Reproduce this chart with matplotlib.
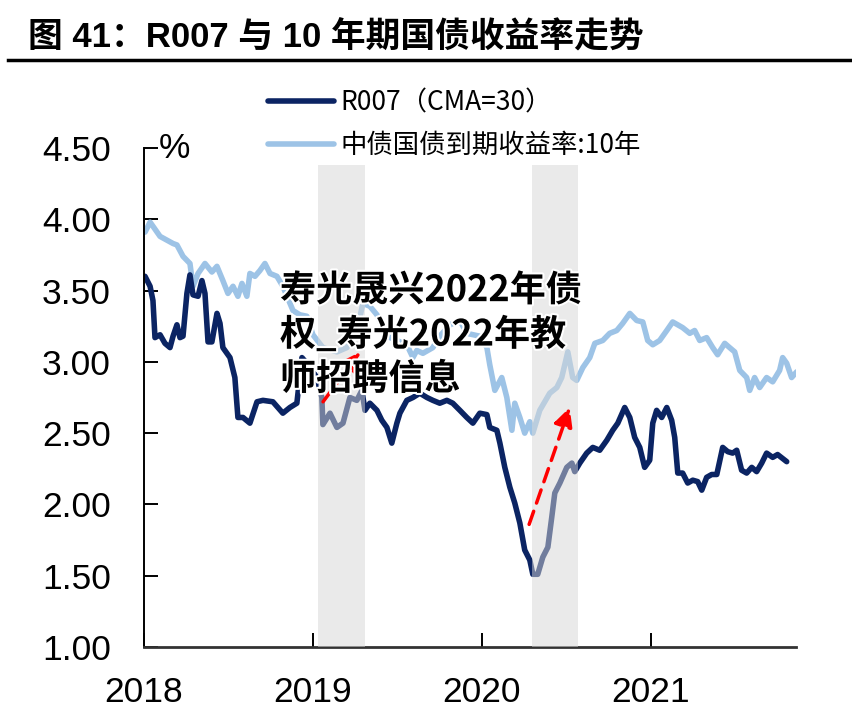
import matplotlib
matplotlib.use('Agg')
import matplotlib.pyplot as plt
import matplotlib.patheffects as pe
from matplotlib.lines import Line2D

# R007 (CMA=30): decimal year, %
r007_t = [2018.006, 2018.036, 2018.053, 2018.065, 2018.095, 2018.124, 2018.154, 2018.172,
          2018.195, 2018.213, 2018.231, 2018.254, 2018.272, 2018.290, 2018.320, 2018.343,
          2018.361, 2018.379, 2018.402, 2018.432, 2018.450, 2018.467, 2018.509, 2018.538,
          2018.556, 2018.586, 2018.627, 2018.669, 2018.704, 2018.763, 2018.822, 2018.864,
          2018.905, 2018.935, 2018.964, 2019.024, 2019.053, 2019.059, 2019.101, 2019.142,
          2019.178, 2019.219, 2019.260, 2019.290, 2019.308, 2019.337, 2019.379, 2019.408,
          2019.438, 2019.467, 2019.497, 2019.515, 2019.556, 2019.592, 2019.633, 2019.675,
          2019.710, 2019.751, 2019.793, 2019.828, 2019.870, 2019.911, 2019.947, 2019.988,
          2020.030, 2020.047, 2020.089, 2020.107, 2020.136, 2020.166, 2020.195, 2020.225,
          2020.254, 2020.284, 2020.302, 2020.331, 2020.361, 2020.391, 2020.414, 2020.432,
          2020.462, 2020.503, 2020.533, 2020.550, 2020.580, 2020.621, 2020.657, 2020.698,
          2020.740, 2020.775, 2020.805, 2020.846, 2020.876, 2020.905, 2020.935, 2020.964,
          2020.994, 2021.012, 2021.035, 2021.065, 2021.095, 2021.124, 2021.142, 2021.160,
          2021.189, 2021.219, 2021.249, 2021.278, 2021.302, 2021.331, 2021.361, 2021.391,
          2021.426, 2021.456, 2021.485, 2021.509, 2021.538, 2021.568, 2021.598, 2021.627,
          2021.657, 2021.686, 2021.722, 2021.751, 2021.805]
r007_v = [3.60, 3.53, 3.43, 3.17, 3.19, 3.13, 3.10, 3.18,
          3.26, 3.17, 3.18, 3.48, 3.61, 3.47, 3.46, 3.57,
          3.48, 3.14, 3.14, 3.34, 3.27, 3.10, 3.03, 2.89,
          2.61, 2.61, 2.57, 2.72, 2.73, 2.72, 2.64, 2.68,
          2.71, 3.03, 2.99, 2.89, 2.75, 2.56, 2.64, 2.54,
          2.57, 2.75, 2.73, 2.80, 2.66, 2.71, 2.66, 2.59,
          2.54, 2.43, 2.57, 2.64, 2.73, 2.75, 2.78, 2.75,
          2.73, 2.71, 2.73, 2.71, 2.66, 2.61, 2.57, 2.64,
          2.63, 2.54, 2.52, 2.43, 2.26, 2.12, 2.01, 1.87,
          1.68, 1.61, 1.51, 1.51, 1.63, 1.70, 1.91, 2.08,
          2.15, 2.26, 2.29, 2.23, 2.29, 2.36, 2.40, 2.38,
          2.45, 2.52, 2.57, 2.68, 2.61, 2.47, 2.40, 2.26,
          2.31, 2.57, 2.66, 2.61, 2.68, 2.59, 2.47, 2.22,
          2.22, 2.15, 2.17, 2.16, 2.10, 2.19, 2.21, 2.21,
          2.40, 2.37, 2.36, 2.38, 2.24, 2.22, 2.26, 2.23,
          2.29, 2.36, 2.33, 2.35, 2.30]

# 中债国债到期收益率:10年
cgb_t = [2018.006, 2018.036, 2018.095, 2018.172, 2018.195, 2018.231, 2018.272, 2018.290,
         2018.320, 2018.361, 2018.402, 2018.432, 2018.467, 2018.497, 2018.527, 2018.556,
         2018.580, 2018.609, 2018.627, 2018.657, 2018.686, 2018.716, 2018.746, 2018.787,
         2018.822, 2018.882, 2018.923, 2018.964, 2019.000, 2019.059, 2019.142, 2019.201,
         2019.260, 2019.296, 2019.337, 2019.379, 2019.438, 2019.497, 2019.556, 2019.592,
         2019.615, 2019.651, 2019.710, 2019.751, 2019.811, 2019.870, 2019.911, 2019.988,
         2020.030, 2020.047, 2020.077, 2020.118, 2020.148, 2020.178, 2020.195, 2020.225,
         2020.254, 2020.284, 2020.302, 2020.343, 2020.402, 2020.444, 2020.473, 2020.509,
         2020.538, 2020.562, 2020.598, 2020.639, 2020.669, 2020.716, 2020.757, 2020.799,
         2020.834, 2020.876, 2020.917, 2020.953, 2020.982, 2021.012, 2021.053, 2021.095,
         2021.130, 2021.189, 2021.231, 2021.260, 2021.290, 2021.331, 2021.367, 2021.396,
         2021.438, 2021.467, 2021.497, 2021.527, 2021.568, 2021.586, 2021.615, 2021.645,
         2021.686, 2021.722, 2021.763, 2021.781, 2021.805, 2021.834, 2021.864]
cgb_v = [3.91, 3.98, 3.88, 3.83, 3.82, 3.74, 3.69, 3.53,
         3.62, 3.69, 3.63, 3.67, 3.57, 3.48, 3.53, 3.46,
         3.55, 3.46, 3.62, 3.60, 3.64, 3.69, 3.62, 3.60,
         3.53, 3.36, 3.33, 3.32, 3.19, 3.10, 3.07, 3.10,
         3.22, 3.41, 3.39, 3.33, 3.18, 3.15, 3.12, 3.03,
         3.08, 3.06, 3.10, 3.18, 3.26, 3.29, 3.20, 3.18,
         3.10, 2.98, 2.80, 2.89, 2.75, 2.52, 2.71, 2.61,
         2.50, 2.58, 2.50, 2.66, 2.78, 2.82, 2.89, 3.07,
         2.89, 2.87, 2.96, 3.03, 3.13, 3.15, 3.20, 3.22,
         3.27, 3.34, 3.29, 3.28, 3.15, 3.12, 3.15, 3.22,
         3.28, 3.24, 3.20, 3.22, 3.15, 3.17, 3.10, 3.05,
         3.13, 3.10, 3.07, 2.94, 2.89, 2.80, 2.89, 2.82,
         2.89, 2.86, 2.94, 3.03, 2.99, 2.89, 2.93]

shade_spans = [(2019.03, 2019.31), (2020.30, 2020.57)]
arrows = [((2019.06, 2.72), (2019.28, 3.07)),
          ((2020.28, 1.86), (2020.52, 2.68))]
xticks = [2018, 2019, 2020, 2021]
yticks = [1.00, 1.50, 2.00, 2.50, 3.00, 3.50, 4.00, 4.50]

navy = '#0b2463'
light = '#9dc3e6'
cjk = ['Noto Sans CJK SC', 'DejaVu Sans']

fig = plt.figure(figsize=(8.53, 7.27), dpi=100)
ax = fig.add_axes([144 / 853, 1 - 647 / 727, (796 - 144) / 853, (647 - 148) / 727])

l2, = ax.plot(cgb_t, cgb_v, color=light, lw=4, solid_joinstyle='round',
              solid_capstyle='round', zorder=2)
l1, = ax.plot(r007_t, r007_v, color=navy, lw=4, solid_joinstyle='round',
              solid_capstyle='round', zorder=2.1)

ymax_frac = (4.38 - 1.0) / 3.5
for a, b in shade_spans:
    ax.axvspan(a, b, ymin=0, ymax=ymax_frac, color='#d7d7d7', alpha=0.5, lw=0, zorder=3)

for tail, head in arrows:
    ax.annotate('', xy=head, xytext=tail,
                arrowprops=dict(arrowstyle='-|>', color='#ff0000', lw=2.5,
                                linestyle=(0, (4, 2.5)), mutation_scale=28,
                                shrinkA=0, shrinkB=0),
                zorder=4)

ax.set_xlim(2018, 2021.86)
ax.set_ylim(1.0, 4.5)
ax.set_xticks(xticks)
ax.set_xticklabels([str(x) for x in xticks])
ax.set_yticks(yticks)
ax.set_yticklabels(['%.2f' % y for y in yticks])

for side in ['top', 'right']:
    ax.spines[side].set_visible(False)
ax.spines['left'].set_linewidth(1.4)
ax.spines['left'].set_color('black')
ax.spines['bottom'].set_linewidth(2)
ax.spines['bottom'].set_color('#333333')

ax.tick_params(axis='both', direction='in', length=10, width=1.4,
               labelsize=25.5, colors='black')
ax.tick_params(axis='y', pad=24)
ax.tick_params(axis='x', pad=21)
for lab in ax.get_xticklabels() + ax.get_yticklabels():
    lab.set_family('Liberation Sans')

ax.text(0.022, 1.0, '%', transform=ax.transAxes, fontsize=25.5,
        family='Liberation Sans', ha='left', va='center')

leg = ax.legend([l1, l2], ['R007（CMA=30）', '中债国债到期收益率:10年'],
                loc='upper left', bbox_to_anchor=(268 / 853, 1 - 89 / 727),
                bbox_transform=fig.transFigure, frameon=False, borderpad=0,
                borderaxespad=0, handlelength=2.5, handletextpad=0.25,
                labelspacing=0.6, prop={'family': cjk, 'size': 19})

# title and rule
fig.text(28 / 853, 1 - 38 / 727, '图 41：R007 与 10 年期国债收益率走势',
         fontsize=25, weight='bold', family=['Liberation Sans', 'Noto Sans CJK SC'],
         ha='left', va='center')
fig.add_artist(Line2D([8 / 853, 1.0], [1 - 60 / 727, 1 - 60 / 727],
                      transform=fig.transFigure, color='black', lw=2.5))

# watermark over the plot
fig.text(280 / 853, 1 - 335 / 727, '寿光晟兴2022年债\n权_寿光2022年教\n师招聘信息',
         fontsize=26, weight=900, family=cjk, ha='left', va='center',
         linespacing=1.25, zorder=10,
         path_effects=[pe.withStroke(linewidth=3, foreground='white')])

fig.savefig('out.png', dpi=100)
